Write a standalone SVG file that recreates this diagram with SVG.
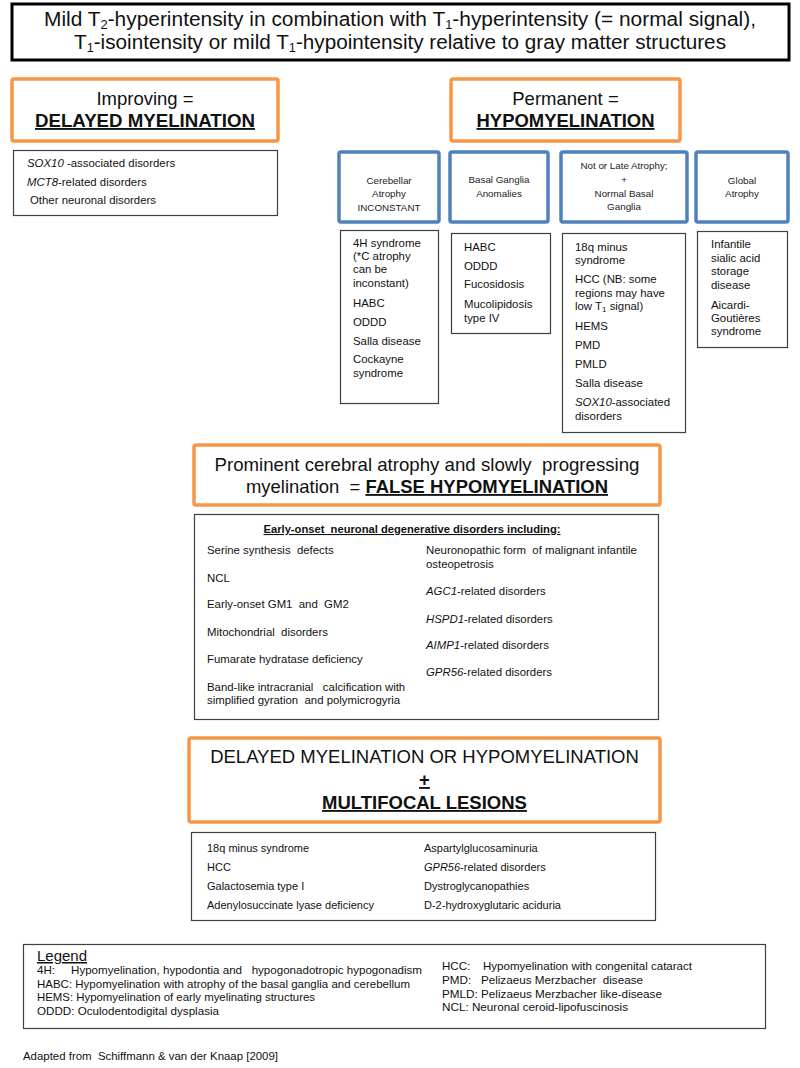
<svg xmlns="http://www.w3.org/2000/svg" width="800" height="1068" viewBox="0 0 800 1068">
<style>
text{font-family:"Liberation Sans",Arial,sans-serif;fill:#111;white-space:pre}
.title{font-size:19.5px}
.head{font-size:18.5px}
.hb{font-weight:bold;text-decoration:underline}
.orange{fill:#fff;stroke:#F79646;stroke-width:3.5}
.blue{fill:#fff;stroke:#4F81BD;stroke-width:3.5}
.list{fill:#fff;stroke:#404040;stroke-width:1.2}
.bl{font-size:9.8px;fill:#222;text-anchor:middle}
.it{font-size:11.4px}
.fl{font-size:11.4px}
.ml{font-size:11px}
.lg{font-size:11.3px}
.c{text-anchor:middle}
</style>
<rect width="800" height="1068" fill="#fff"/>
<g id="connectors"/>
<g id="title">
<rect x="12" y="4" width="777" height="56" fill="#fff" stroke="#000" stroke-width="3"/>
<text class="title c" x="400" y="26" textLength="712" lengthAdjust="spacingAndGlyphs">Mild T<tspan font-size="12" dy="3">2</tspan><tspan dy="-3">-hyperintensity in combination with T</tspan><tspan font-size="12" dy="3">1</tspan><tspan dy="-3">-hyperintensity (= normal signal),</tspan></text>
<text class="title c" x="400" y="49" textLength="652" lengthAdjust="spacingAndGlyphs">T<tspan font-size="12" dy="3">1</tspan><tspan dy="-3">-isointensity or mild T</tspan><tspan font-size="12" dy="3">1</tspan><tspan dy="-3">-hypointensity relative to gray matter structures</tspan></text>
</g>
<g id="delayed">
<rect class="orange" x="12" y="79" width="266" height="62" rx="2"/>
<text class="head c" x="145" y="105">Improving =</text>
<text class="head hb c" x="145" y="127" textLength="220" lengthAdjust="spacingAndGlyphs">DELAYED MYELINATION</text>
</g>
<g id="delayed-list">
<rect class="list" x="13.5" y="150.5" width="264" height="65"/>
<text class="it" x="27" y="167"><tspan font-style="italic">SOX10</tspan> -associated disorders</text>
<text class="it" x="27" y="186"><tspan font-style="italic">MCT8</tspan>-related disorders</text>
<text class="it" x="30" y="204">Other neuronal disorders</text>
</g>
<g id="permanent">
<rect class="orange" x="451" y="79" width="229" height="62" rx="2"/>
<text class="head c" x="565.5" y="105">Permanent =</text>
<text class="head hb c" x="565.5" y="127" textLength="178" lengthAdjust="spacingAndGlyphs">HYPOMYELINATION</text>
</g>
<g id="cerebellar">
<rect class="blue" x="339" y="152" width="100" height="70" rx="2"/>
<text class="bl" x="389" y="184">Cerebellar</text>
<text class="bl" x="389" y="197">Atrophy</text>
<text class="bl" x="389" y="211">INCONSTANT</text>
</g>
<g id="basal">
<rect class="blue" x="450" y="152" width="98" height="70" rx="2"/>
<text class="bl" x="499" y="183">Basal Ganglia</text>
<text class="bl" x="499" y="197">Anomalies</text>
</g>
<g id="notlate">
<rect class="blue" x="561" y="152" width="126" height="70" rx="2"/>
<text class="bl" x="624" y="169">Not or Late Atrophy;</text>
<text class="bl" x="624" y="183">+</text>
<text class="bl" x="624" y="197">Normal Basal</text>
<text class="bl" x="624" y="210">Ganglia</text>
</g>
<g id="global">
<rect class="blue" x="696" y="152" width="92" height="70" rx="2"/>
<text class="bl" x="742" y="184">Global</text>
<text class="bl" x="742" y="197">Atrophy</text>
</g>
<g id="cerebellar-list">
<rect class="list" x="340.5" y="230.5" width="98" height="173"/>
<text class="it" x="353" y="247">4H syndrome</text>
<text class="it" x="353" y="260">(*C atrophy</text>
<text class="it" x="353" y="273">can be</text>
<text class="it" x="353" y="287">inconstant)</text>
<text class="it" x="353" y="307">HABC</text>
<text class="it" x="353" y="326">ODDD</text>
<text class="it" x="353" y="345">Salla disease</text>
<text class="it" x="353" y="363">Cockayne</text>
<text class="it" x="353" y="377">syndrome</text>
</g>
<g id="basal-list">
<rect class="list" x="451.5" y="233.5" width="99" height="100"/>
<text class="it" x="464" y="251">HABC</text>
<text class="it" x="464" y="270">ODDD</text>
<text class="it" x="464" y="288">Fucosidosis</text>
<text class="it" x="464" y="308">Mucolipidosis</text>
<text class="it" x="464" y="322">type IV</text>
</g>
<g id="notlate-list">
<rect class="list" x="562.5" y="233.5" width="123" height="199"/>
<text class="it" x="575" y="251">18q minus</text>
<text class="it" x="575" y="264">syndrome</text>
<text class="it" x="575" y="283">HCC (NB: some</text>
<text class="it" x="575" y="297">regions may have</text>
<text class="it" x="575" y="310">low T<tspan font-size="8" dy="2">1</tspan><tspan dy="-2"> signal)</tspan></text>
<text class="it" x="575" y="330">HEMS</text>
<text class="it" x="575" y="349">PMD</text>
<text class="it" x="575" y="368">PMLD</text>
<text class="it" x="575" y="387">Salla disease</text>
<text class="it" x="575" y="406"><tspan font-style="italic">SOX10</tspan>-associated</text>
<text class="it" x="575" y="420">disorders</text>
</g>
<g id="global-list">
<rect class="list" x="697.5" y="231.5" width="90" height="116"/>
<text class="it" x="711" y="248">Infantile</text>
<text class="it" x="711" y="262">sialic acid</text>
<text class="it" x="711" y="275">storage</text>
<text class="it" x="711" y="289">disease</text>
<text class="it" x="711" y="309">Aicardi-</text>
<text class="it" x="711" y="322">Goutières</text>
<text class="it" x="711" y="335">syndrome</text>
</g>
<g id="false-hypo">
<rect class="orange" x="194" y="445" width="466" height="60" rx="2"/>
<text class="head c" x="427" y="471" textLength="425" lengthAdjust="spacingAndGlyphs">Prominent cerebral atrophy and slowly  progressing</text>
<text class="head c" x="427" y="493" textLength="362" lengthAdjust="spacingAndGlyphs">myelination  = <tspan class="hb">FALSE HYPOMYELINATION</tspan></text>
</g>
<g id="false-hypo-list">
<rect class="list" x="194.5" y="514.5" width="464" height="205"/>
<text class="c" x="412" y="533" font-size="10.8" font-weight="bold" text-decoration="underline" textLength="297" lengthAdjust="spacingAndGlyphs">Early-onset  neuronal degenerative disorders including:</text>
<text class="fl" x="207" y="554">Serine synthesis  defects</text>
<text class="fl" x="207" y="582">NCL</text>
<text class="fl" x="207" y="608">Early-onset GM1  and  GM2</text>
<text class="fl" x="207" y="636">Mitochondrial  disorders</text>
<text class="fl" x="207" y="663">Fumarate hydratase deficiency</text>
<text class="fl" x="207" y="691">Band-like intracranial   calcification with</text>
<text class="fl" x="207" y="704">simplified gyration  and polymicrogyria</text>
<text class="fl" x="426" y="554">Neuronopathic form  of malignant infantile</text>
<text class="fl" x="426" y="568">osteopetrosis</text>
<text class="fl" x="426" y="595"><tspan font-style="italic">AGC1</tspan>-related disorders</text>
<text class="fl" x="426" y="623"><tspan font-style="italic">HSPD1</tspan>-related disorders</text>
<text class="fl" x="426" y="649"><tspan font-style="italic">AIMP1</tspan>-related disorders</text>
<text class="fl" x="426" y="676"><tspan font-style="italic">GPR56</tspan>-related disorders</text>
</g>
<g id="multifocal">
<rect class="orange" x="189" y="738" width="471" height="84" rx="2"/>
<text class="head c" x="424.5" y="763">DELAYED MYELINATION OR HYPOMYELINATION</text>
<text class="head hb c" x="424.5" y="786">+</text>
<text class="head hb c" x="424.5" y="809">MULTIFOCAL LESIONS</text>
</g>
<g id="multifocal-list">
<rect class="list" x="191.5" y="832.5" width="464" height="88"/>
<text class="ml" x="207" y="852">18q minus syndrome</text>
<text class="ml" x="207" y="871">HCC</text>
<text class="ml" x="207" y="890">Galactosemia type I</text>
<text class="ml" x="207" y="909">Adenylosuccinate lyase deficiency</text>
<text class="ml" x="424" y="852">Aspartylglucosaminuria</text>
<text class="ml" x="424" y="871"><tspan font-style="italic">GPR56</tspan>-related disorders</text>
<text class="ml" x="424" y="890">Dystroglycanopathies</text>
<text class="ml" x="424" y="909">D-2-hydroxyglutaric aciduria</text>
</g>
<g id="legend">
<rect class="list" x="23.5" y="944.5" width="742" height="84"/>
<text x="37" y="961" font-size="15" text-decoration="underline" textLength="50" lengthAdjust="spacingAndGlyphs">Legend</text>
<text class="lg" x="37" y="974" textLength="385" lengthAdjust="spacingAndGlyphs">4H:     Hypomyelination, hypodontia and   hypogonadotropic hypogonadism</text>
<text class="lg" x="37" y="988" textLength="373" lengthAdjust="spacingAndGlyphs">HABC: Hypomyelination with atrophy of the basal ganglia and cerebellum</text>
<text class="lg" x="37" y="1001" textLength="278" lengthAdjust="spacingAndGlyphs">HEMS: Hypomyelination of early myelinating structures</text>
<text class="lg" x="37" y="1015" textLength="182" lengthAdjust="spacingAndGlyphs">ODDD: Oculodentodigital dysplasia</text>
<text class="lg" x="442" y="970" textLength="250" lengthAdjust="spacingAndGlyphs">HCC:    Hypomyelination with congenital cataract</text>
<text class="lg" x="442" y="984" textLength="201" lengthAdjust="spacingAndGlyphs">PMD:   Pelizaeus Merzbacher  disease</text>
<text class="lg" x="442" y="998" textLength="220" lengthAdjust="spacingAndGlyphs">PMLD: Pelizaeus Merzbacher like-disease</text>
<text class="lg" x="442" y="1011" textLength="186" lengthAdjust="spacingAndGlyphs">NCL: Neuronal ceroid-lipofuscinosis</text>
</g>
<g id="footer">
<text x="23" y="1060" font-size="11" textLength="255" lengthAdjust="spacingAndGlyphs">Adapted from  Schiffmann &amp; van der Knaap [2009]</text>
</g>
</svg>
